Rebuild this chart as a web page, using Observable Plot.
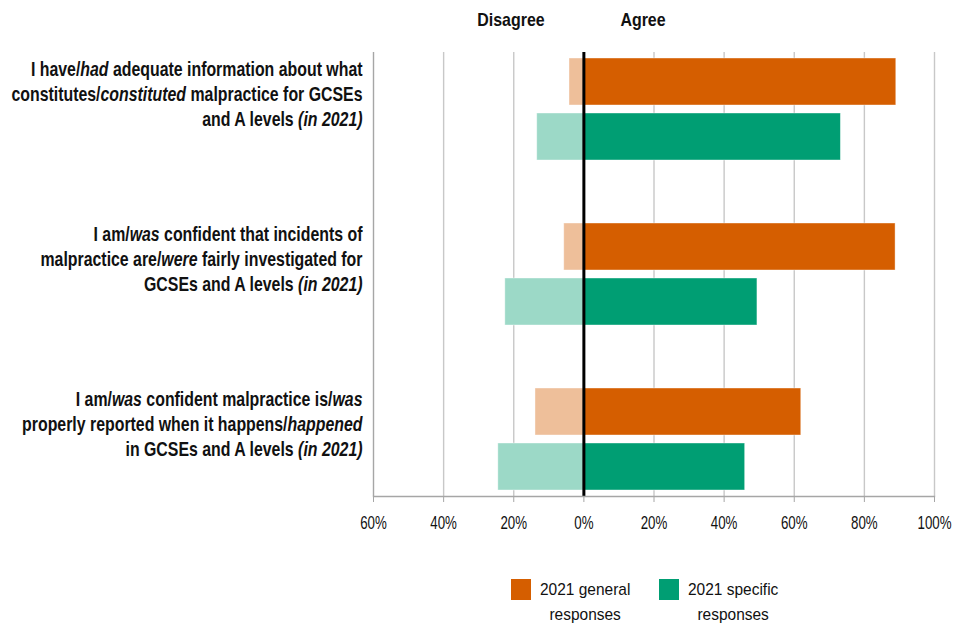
<!DOCTYPE html>
<html><head><meta charset="utf-8">
<script src="https://cdn.jsdelivr.net/npm/d3@7"></script>
<script src="https://cdn.jsdelivr.net/npm/@observablehq/plot@0.6"></script>
<style>
body{margin:0;background:#fff;}
#wrap{position:relative;width:960px;height:640px;font-family:"Liberation Sans",Arial,sans-serif;color:#111;}
#head{position:relative;height:40px;}
#head span{position:absolute;top:11px;font-weight:bold;font-size:19px;line-height:18px;transform:translateX(-50%) scaleX(0.84);white-space:nowrap;}
#chart{position:absolute;top:40px;left:0;}
.sw{position:absolute;width:20px;height:21px;}
.lt{position:absolute;font-size:17px;line-height:24.5px;text-align:center;white-space:nowrap;transform-origin:0 0;transform:scaleX(0.91);}
</style></head>
<body>
<div id="wrap">
  <div id="head"></div>
  <div id="chart"></div>
  <div id="legend"></div>
</div>
<script>
const questions = [
  "I have/*had* adequate information about what\nconstitutes/*constituted* malpractice for GCSEs\nand A levels *(in 2021)*",
  "I am/*was* confident that incidents of\nmalpractice are/*were* fairly investigated for\nGCSEs and A levels *(in 2021)*",
  "I am/*was* confident malpractice is/*was*\nproperly reported when it happens/*happened*\nin GCSEs and A levels *(in 2021)*"
];
const series = ["2021 general responses", "2021 specific responses"];
const legendLabels = [["2021 general", "responses"], ["2021 specific", "responses"]];
const agreeGeneral = [89.1, 88.9, 62.0];
const disagreeGeneral = [4.1, 5.6, 13.8];
const agreeSpecific = [73.3, 49.5, 46.0];
const disagreeSpecific = [13.3, 22.4, 24.4];
const xTicks = [-60, -40, -20, 0, 20, 40, 60, 80, 100];
const headers = ["Disagree", "Agree"];

const strong = {"2021 general responses": "#D55E00", "2021 specific responses": "#009E73"};
const light = {"2021 general responses": "#EEBF9A", "2021 specific responses": "#9CD9C7"};

// band keys: question × series, with a spacer band between questions
const key = (i, s) => `${i}|${s}`;
const yDomain = questions.flatMap((q, i) => {
  const b = series.map(s => key(i, s));
  return i < questions.length - 1 ? [...b, `gap${i}`] : b;
});

const rows = questions.flatMap((q, i) => [
  {y: key(i, series[0]), s: series[0], side: "Disagree", x1: -disagreeGeneral[i], x2: 0},
  {y: key(i, series[0]), s: series[0], side: "Agree", x1: 0, x2: agreeGeneral[i]},
  {y: key(i, series[1]), s: series[1], side: "Disagree", x1: -disagreeSpecific[i], x2: 0},
  {y: key(i, series[1]), s: series[1], side: "Agree", x1: 0, x2: agreeSpecific[i]}
]);
const labels = questions.map((q, i) => ({y: key(i, series[0]), text: q}));

const chart = Plot.plot({
  width: 960,
  height: 500,
  marginTop: 12,
  marginBottom: 44,
  marginLeft: 373,
  marginRight: 26,
  style: {fontFamily: '"Liberation Sans",Arial,sans-serif', color: "#111", background: "transparent", overflow: "visible"},
  x: {domain: [-60, 100]},
  y: {domain: yDomain, paddingInner: 0.145, paddingOuter: 0.085, axis: null},
  marks: [
    Plot.ruleX(xTicks.filter(d => d !== -60 && d !== 0), {stroke: "#c8c8c8", strokeWidth: 1.4}),
    Plot.ruleX([-60], {stroke: "#a6a6a6", strokeWidth: 1.4}),
    Plot.barX(rows, {y: "y", x1: "x1", x2: "x2",
      fill: d => d.side === "Agree" ? strong[d.s] : light[d.s],
      stroke: "#fff", strokeOpacity: 0.5, strokeWidth: 0.8}),
    Plot.ruleX([0], {stroke: "#000", strokeWidth: 3}),
    Plot.frame({anchor: "bottom", stroke: "#a6a6a6", strokeWidth: 1.4}),
    Plot.axisX(xTicks, {tickFormat: d => Math.abs(d) + "%", tickSize: 6, stroke: "#a6a6a6", fontSize: 18, tickPadding: 14, label: null, fill: "#111"}),
    Plot.text(labels, {y: "y", text: "text", frameAnchor: "left", textAnchor: "end", dx: -11, dy: 11,
      fontWeight: "bold", fontSize: 19.5, lineHeight: 1.3, fill: "#111"})
  ]
});

// italicise *...* segments
chart.querySelectorAll("text").forEach(t => {
  const parts = t.querySelectorAll("tspan").length ? [...t.querySelectorAll("tspan")] : [t];
  parts.forEach(el => {
    const s = el.textContent;
    if (!s.includes("*")) return;
    el.textContent = "";
    s.split("*").forEach((seg, k) => {
      if (!seg) return;
      const ts = document.createElementNS("http://www.w3.org/2000/svg", "tspan");
      if (k % 2 === 1) ts.setAttribute("font-style", "italic");
      ts.textContent = seg;
      el.appendChild(ts);
    });
  });
});

// narrow (condensed) rendering of labels, anchored at each text's own position
function condense(sel, s) {
  chart.querySelectorAll(sel).forEach(t => {
    const tr = t.getAttribute("transform");
    if (tr) {
      t.setAttribute("transform", tr + ` scale(${s},1)`);
    } else {
      const x = +(t.getAttribute("x") || 0), y = +(t.getAttribute("y") || 0);
      t.removeAttribute("x"); t.removeAttribute("y");
      t.setAttribute("transform", `translate(${x},${y}) scale(${s},1)`);
    }
  });
}
condense('g[aria-label="text"] text', 0.815);
condense('g[aria-label="x-axis tick label"] text', 0.74);

document.getElementById("chart").appendChild(chart);

// header labels placed on the x scale
const xs = chart.scale("x");
const head = document.getElementById("head");
[[headers[0], -20.5], [headers[1], 17]].forEach(([h, v]) => {
  const sp = document.createElement("span");
  sp.textContent = h;
  sp.style.left = xs.apply(v) + "px";
  head.appendChild(sp);
});

// legend
const legend = document.getElementById("legend");
const legendX = [511, 659];
series.forEach((s, i) => {
  const sw = document.createElement("div");
  sw.className = "sw";
  sw.style.left = legendX[i] + "px";
  sw.style.top = "579px";
  sw.style.background = strong[s];
  legend.appendChild(sw);
  const lt = document.createElement("div");
  lt.className = "lt";
  lt.style.left = (legendX[i] + 29) + "px";
  lt.style.top = "578px";
  lt.innerHTML = legendLabels[i].join("<br>");
  legend.appendChild(lt);
});
</script>
</body></html>
